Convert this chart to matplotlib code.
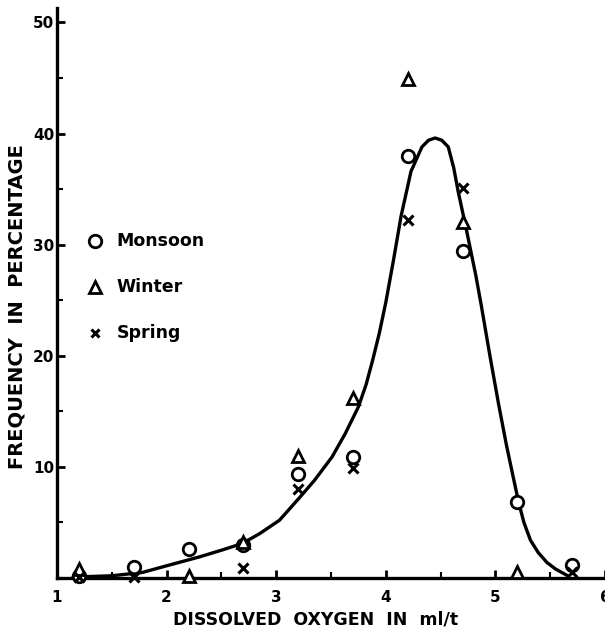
import matplotlib
matplotlib.use("Agg")
import matplotlib.pyplot as plt
from matplotlib.ticker import MultipleLocator

# Data
oxygen = [1.2, 1.7, 2.2, 2.7, 3.2, 3.7, 4.2, 4.7, 5.2, 5.7]
monsoon = [0.2, 1.0, 2.6, 3.0, 9.4, 10.9, 38.0, 29.4, 6.8, 1.2]
winter_x = [1.2, 2.2, 2.7, 3.2, 3.7, 4.2, 4.7, 5.2]
winter = [0.8, 0.2, 3.2, 11.0, 16.2, 44.9, 32.0, 0.5]
spring_x = [1.2, 1.7, 2.7, 3.2, 3.7, 4.2, 4.7, 5.7]
spring = [0.1, 0.1, 0.9, 8.0, 9.9, 32.2, 35.1, 0.5]

# Fitted curve
curve_x = [1.2, 1.5, 1.78, 2.0, 2.3, 2.5, 2.69, 2.85, 3.03, 3.21, 3.35, 3.51,
           3.63, 3.75, 3.82, 3.88, 3.94, 4.0, 4.07, 4.14, 4.23, 4.33, 4.39,
           4.45, 4.51, 4.57, 4.62, 4.66, 4.73, 4.82, 4.87, 4.95, 5.03, 5.1,
           5.16, 5.21, 5.26, 5.32, 5.39, 5.47, 5.55, 5.66]
curve_y = [0.1, 0.2, 0.5, 1.1, 1.9, 2.5, 3.1, 4.0, 5.2, 7.2, 8.8, 10.9,
           13.0, 15.4, 17.4, 19.6, 22.0, 24.8, 28.6, 32.6, 36.6, 38.8, 39.4,
           39.6, 39.4, 38.8, 36.9, 34.8, 31.6, 27.3, 24.6, 20.0, 15.6, 12.0,
           9.2, 6.9, 5.0, 3.4, 2.3, 1.4, 0.8, 0.2]

xticks = [1, 2, 3, 4, 5, 6]
yticks = [10, 20, 30, 40, 50]

W, H = 605, 637
fig = plt.figure(figsize=(W / 100, H / 100), dpi=100)
left = 57 / W
bottom = (H - 578) / H
ax = fig.add_axes([left, bottom, 1 - left, (578 - 8) / H])
ax.set_xlim(1, 6.0)
ax.set_ylim(0, 51.3)

for s in ["top", "right"]:
    ax.spines[s].set_visible(False)
for s in ["left", "bottom"]:
    ax.spines[s].set_linewidth(2.4)
    ax.spines[s].set_color("black")

ax.plot(curve_x, curve_y, color="black", lw=2.4, solid_capstyle="round",
        solid_joinstyle="round", zorder=3)

ax.plot(oxygen, monsoon, ls="none", marker="o", ms=9, mfc="white", mec="black",
        mew=2.0, zorder=4, clip_on=False)
ax.plot(winter_x, winter, ls="none", marker="^", ms=9, mfc="white", mec="black",
        mew=2.0, zorder=4, clip_on=False)
ax.plot(spring_x, spring, ls="none", marker="x", ms=7, color="black",
        mew=2.2, zorder=4, clip_on=False)

ax.set_xticks(xticks)
ax.set_xticklabels([str(t) for t in xticks], fontweight="bold")
ax.set_yticks(yticks)
ax.set_yticklabels([str(t) for t in yticks], fontweight="bold")
ax.xaxis.set_minor_locator(MultipleLocator(0.5))
ax.yaxis.set_minor_locator(MultipleLocator(5))
ax.tick_params(axis="both", which="major", direction="in", length=6, width=2,
               labelsize=11, pad=9)
ax.tick_params(axis="both", which="minor", direction="in", length=4, width=1.5)
ax.tick_params(axis="y", pad=2)

ax.set_xlabel("DISSOLVED  OXYGEN  IN  ml/t", fontsize=12.5, fontweight="bold")
ax.set_ylabel("FREQUENCY  IN  PERCENTAGE", fontsize=14, fontweight="bold")
ax.xaxis.set_label_coords((316 - 57) / 548, -(611 - 578) / 570)
ax.yaxis.set_label_coords((27 - 57) / 548, (578 - 307) / 570)

# Hand-drawn style legend
leg_items = [("o", "Monsoon", 9, "white"), ("^", "Winter", 8, "white"), ("x", "Spring", 6, "black")]
leg_y = [(578 - 241) / 11.12, (578 - 287) / 11.12, (578 - 333) / 11.12]
for (m, lab, ms, fc), yy in zip(leg_items, leg_y):
    xm = 1 + (95 - 57) / 110
    if m == "x":
        ax.plot([xm], [yy], ls="none", marker=m, ms=ms, color="black", mew=2.2)
    else:
        ax.plot([xm], [yy], ls="none", marker=m, ms=ms, mfc=fc, mec="black", mew=2.0)
    ax.text(xm + 0.2, yy, lab, fontsize=12.5, fontweight="bold", va="center", ha="left")

fig.savefig("out.png", dpi=100)
